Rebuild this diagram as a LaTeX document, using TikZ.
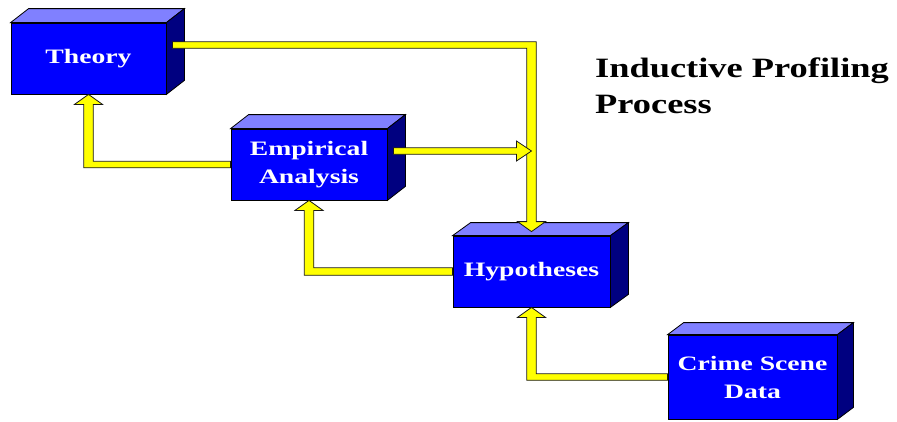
\documentclass[tikz,border=0pt]{standalone}
\usepackage{fontspec}
\setmainfont{Liberation Serif}
\newfontfamily\boxfont[FakeStretch=1.35]{Liberation Serif}
\newfontfamily\titlefont[FakeStretch=1.3]{Liberation Serif}
\usetikzlibrary{calc}
\definecolor{frontblue}{HTML}{0000FF}
\definecolor{topblue}{HTML}{8080FF}
\definecolor{sideblue}{HTML}{000080}
\definecolor{arrowyellow}{HTML}{FFFF00}
\tikzset{
  front/.style={draw=black, line width=0.8pt, fill=frontblue, text=white,
    font=\boxfont\bfseries\fontsize{20.5}{28}\selectfont, align=center,
    inner sep=0pt, minimum width=#1},
  topface/.style={draw=black, line width=0.8pt, fill=topblue},
  sideface/.style={draw=black, line width=0.8pt, fill=sideblue},
  fatarrow/.style={draw=black!90, line width=0.8pt, fill=arrowyellow, line join=miter},
  titletext/.style={font=\titlefont\bfseries\fontsize{28}{36}\selectfont, text=black, inner sep=0pt}
}
% 3D box decoration: #1 node name, #2 dx, #3 dy (pixel units)
\newcommand\boxdepth[3]{%
  \path[topface] (#1.north west) -- ++(#2,#3) -- ($(#1.north east)+(#2,#3)$) -- (#1.north east) -- cycle;
  \path[sideface] (#1.north east) -- ($(#1.north east)+(#2,#3)$) -- ($(#1.south east)+(#2,#3)$) -- (#1.south east) -- cycle;
}
\begin{document}
\begin{tikzpicture}[x=1pt, y=-1pt]
\useasboundingbox (0,0) rectangle (897,421);

% boxes
\node[front=155pt, minimum height=71pt] (theory) at (88.5,58.5) {Theory};
\boxdepth{theory}{18}{-14}
\node[front=156pt, minimum height=71pt] (emp) at (309,164.5) {Empirical\\Analysis};
\boxdepth{emp}{18}{-14}
\node[front=157pt, minimum height=71pt] (hyp) at (531.5,271.5) {Hypotheses};
\boxdepth{hyp}{18}{-13}
\node[front=169pt, minimum height=84pt] (crime) at (752.5,377) {Crime Scene\\Data};
\boxdepth{crime}{16}{-12}

% title
\node[titletext, anchor=base west] (title1) at (595,77) {Inductive Profiling};
\node[titletext, anchor=base west] (title2) at (595,113) {Process};

% Theory -> Hypotheses (right, then down)
\coordinate (thstart) at ($(theory.east)+(6,-13.5)$);
\coordinate (hyptip) at ($(hyp.north)+(0,-4)$);
\path[fatarrow] let \p1=(thstart), \p2=(hyptip) in
  (\x1,\y1+3.25pt) -- (\x2+4.75pt,\y1+3.25pt) -- (\x2+4.75pt,\y2+10pt) -- (\x2+14pt,\y2+10pt)
  -- (\x2,\y2) -- (\x2-14pt,\y2+10pt) -- (\x2-4.75pt,\y2+10pt) -- (\x2-4.75pt,\y1-3.25pt)
  -- (\x1,\y1-3.25pt) -- cycle;

% Empirical -> junction (right)
\coordinate (empstart) at ($(emp.east)+(6,-13.5)$);
\coordinate (junction) at (hyp.north |- empstart);
\path[fatarrow] let \p1=(empstart), \p2=(junction) in
  (\x1,\y1+3.25pt) -- (\x2-15pt,\y1+3.25pt) -- (\x2-15pt,\y1+10pt) -- (\x2,\y1)
  -- (\x2-15pt,\y1-10pt) -- (\x2-15pt,\y1-3.25pt) -- (\x1,\y1-3.25pt) -- cycle;

% Empirical -> Theory (left, then up)
\path[fatarrow] let \p1=(emp.west), \p2=(theory.south) in
  (\x1,\y1+3.25pt) -- (\x2+4.75pt,\y1+3.25pt) -- (\x2+4.75pt,\y2-10pt) -- (\x2+14pt,\y2-10pt)
  -- (\x2,\y2) -- (\x2-14pt,\y2-10pt) -- (\x2-4.75pt,\y2-10pt) -- (\x2-4.75pt,\y1-3.25pt)
  -- (\x1,\y1-3.25pt) -- cycle;

% Hypotheses -> Empirical (left, then up)
\path[fatarrow] let \p1=(hyp.west), \p2=(emp.south) in
  (\x1,\y1+3.75pt) -- (\x2+4.75pt,\y1+3.75pt) -- (\x2+4.75pt,\y2-10pt) -- (\x2+14pt,\y2-10pt)
  -- (\x2,\y2) -- (\x2-14pt,\y2-10pt) -- (\x2-4.75pt,\y2-10pt) -- (\x2-4.75pt,\y1-3.75pt)
  -- (\x1,\y1-3.75pt) -- cycle;

% Crime Scene Data -> Hypotheses (left, then up)
\path[fatarrow] let \p1=(crime.west), \p2=(hyp.south) in
  (\x1,\y1+3.25pt) -- (\x2+4.75pt,\y1+3.25pt) -- (\x2+4.75pt,\y2-10pt) -- (\x2+14pt,\y2-10pt)
  -- (\x2,\y2) -- (\x2-14pt,\y2-10pt) -- (\x2-4.75pt,\y2-10pt) -- (\x2-4.75pt,\y1-3.25pt)
  -- (\x1,\y1-3.25pt) -- cycle;
\end{tikzpicture}
\end{document}
